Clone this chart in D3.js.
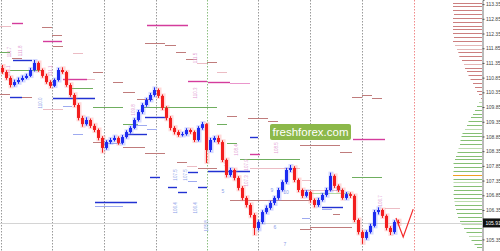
<!DOCTYPE html>
<html>
<head>
<meta charset="utf-8">
<script src="https://cdn.jsdelivr.net/npm/d3@7"></script>
<style>
body { margin: 0; background: #fff; }
svg { display: block; }
</style>
</head>
<body>
<script>
// candles (open = previous close)
const firstOpen = 111.18
const closes = [111.04, 110.84, 110.60, 110.70, 110.77, 110.84, 110.91, 111.11, 111.35, 111.11,
    110.91, 110.70, 110.57, 110.77, 111.11, 111.04, 110.60, 110.26, 109.92, 109.48,
    109.27, 109.41, 109.21, 109.07, 108.80, 108.46, 108.66, 108.73, 108.80, 108.63,
    108.83, 109.00, 109.14, 109.41, 109.68, 109.92, 110.09, 110.26, 110.43, 110.23,
    109.82, 109.48, 109.14, 109.00, 108.90, 108.93, 109.07, 109.00, 108.73, 109.14,
    109.27, 108.39, 108.73, 108.80, 108.66, 108.05, 107.54, 107.71, 107.44, 107.10,
    106.76, 106.52, 106.18, 105.74, 105.94, 106.28, 106.42, 106.59, 106.76, 107.03,
    107.30, 107.71, 107.78, 107.37, 107.03, 106.83, 106.96, 106.69, 106.52, 106.69,
    106.86, 107.03, 107.51, 107.17, 107.03, 106.76, 106.89, 106.83, 106.01, 105.60,
    105.40, 105.60, 105.81, 106.28, 106.35, 106.15, 105.74, 105.60, 105.94, 105.91]
const highs = [111.28, 111.10, 110.90, 110.78, 110.85, 110.92, 110.98, 111.18, 111.45, 111.40,
    111.16, 110.98, 110.76, 110.82, 111.18, 111.20, 111.08, 110.66, 110.32, 109.98,
    109.55, 109.50, 109.46, 109.28, 109.12, 108.86, 108.72, 108.80, 108.88, 108.85,
    108.90, 109.06, 109.20, 109.47, 109.75, 109.98, 110.16, 110.33, 110.52, 110.48,
    110.28, 109.88, 109.54, 109.20, 109.06, 109.00, 109.13, 109.12, 109.05, 109.20,
    109.34, 109.30, 108.80, 108.86, 108.88, 108.72, 108.10, 107.78, 107.76, 107.50,
    107.16, 106.82, 106.58, 106.24, 106.00, 106.34, 106.50, 106.66, 106.82, 107.10,
    107.36, 107.78, 107.88, 107.84, 107.42, 107.08, 107.02, 107.00, 106.74, 106.76,
    106.92, 107.10, 107.62, 107.56, 107.22, 107.08, 106.96, 106.95, 106.88, 106.06,
    105.66, 105.66, 105.88, 106.35, 106.44, 106.40, 106.20, 105.80, 106.00, 106.02]
const lows = [110.98, 110.78, 110.52, 110.55, 110.64, 110.72, 110.80, 110.87, 111.06, 111.05,
    110.85, 110.64, 110.50, 110.53, 110.72, 110.98, 110.54, 110.20, 109.85, 109.40,
    109.18, 109.22, 109.14, 109.00, 108.72, 108.30, 108.40, 108.60, 108.68, 108.57,
    108.58, 108.78, 108.95, 109.10, 109.36, 109.62, 109.86, 110.04, 110.20, 110.16,
    109.75, 109.40, 109.06, 108.92, 108.84, 108.85, 108.88, 108.94, 108.66, 108.68,
    109.08, 107.95, 108.32, 108.66, 108.60, 107.98, 107.46, 107.48, 107.36, 107.02,
    106.68, 106.44, 106.10, 105.50, 105.66, 105.88, 106.22, 106.36, 106.52, 106.70,
    106.98, 107.24, 107.64, 107.30, 106.96, 106.76, 106.78, 106.60, 106.44, 106.46,
    106.64, 106.80, 106.98, 107.10, 106.96, 106.70, 106.70, 106.76, 105.94, 105.52,
    105.20, 105.34, 105.55, 105.76, 106.20, 106.08, 105.66, 105.50, 105.54, 105.84]

// projected path after the last candle
const forecast = [
    { i: 98.5, p: 106.08 },
    { i: 100.3, p: 105.43 },
    { i: 102.8, p: 106.38 },
]

// day separators (bar positions)
const separators = [-0.3, 12.6, 25.5, 38.4, 51.3, 64.1, 77.1, 90, 102.9]
const separatorKinds = ["gray", "gray", "gray", "gray", "green", "gray", "gray", "gray", "red"]

// right axis
const tickPrices = [113.35, 112.85, 112.35, 111.85, 111.35, 110.85, 110.35, 109.85, 109.35,
    108.85, 108.35, 107.85, 107.35, 106.85, 106.35, 105.35]

// volume profile: bins from 113.40 down, step 0.13
const profileTop = 113.40
const profileStep = 0.13
const profileVolumes = [29, 29, 29, 28, 29, 29, 29, 29, 29, 28,
    29, 27, 25, 23.7, 22.7, 20, 18, 17, 15, 13.5,
    11.5, 9, 7, 5, 3, 1, 3, 5, 7, 9,
    11, 13.5, 15, 17, 19.5, 20.5, 21.5, 22, 23.5, 24.5,
    26, 27, 28.5, 28, 28.5, 29, 28.5, 28.5, 28.5, 28,
    28.5, 28, 27.5, 27, 26, 25, 24, 22, 20.5, 18,
    15.5, 13, 10.5, 7.5, 5]
const profileLight = [11, 12, 16, 26, 33, 38, 47, 52, 58, 61]
const pocIndex = 45
const splitPrice = 110.05

// horizontal level segments [from bar, to bar, price, kind]
const levels = [
    [2.5, 5.25, 112.71, "magenta"], [-0.5, 2.25, 112.61, "lightpink"], [10, 12.5, 112.57, "rosy"],
    [12.5, 15, 112.30, "rosy"], [10.25, 15, 112.10, "magenta"], [12.75, 15.25, 111.93, "rosy"],
    [17.75, 20.25, 111.69, "lightpink"], [-0.5, 2, 111.72, "green"], [2.75, 7.5, 111.45, "blue"],
    [2.5, 5, 111.52, "rosy"], [2, 10, 111.11, "green"], [22.75, 25.25, 111.04, "rosy"],
    [15.25, 21.25, 110.80, "magenta"], [21.25, 23.25, 110.80, "lightpink"], [27.75, 30.25, 110.70, "rosy"],
    [17.5, 22.75, 110.50, "green"], [30.25, 33.25, 110.36, "rosy"], [-0.5, 2, 110.29, "rosy"],
    [2, 5, 110.19, "blue"], [5, 7.5, 110.19, "rosy"], [12.75, 23.25, 110.16, "blue"],
    [33.75, 37.75, 110.12, "rosy"], [22.75, 30.25, 109.85, "green"], [15.25, 17.5, 109.89, "lightblue"],
    [10.25, 15.25, 109.78, "lightpink"], [36.25, 46.5, 112.64, "magenta"], [35.75, 40.75, 112.03, "rosy"],
    [40.75, 43.5, 111.96, "rosy"], [43.5, 46, 111.72, "rosy"], [46, 48.75, 111.48, "rosy"],
    [48.75, 51.25, 111.35, "lightpink"], [51.25, 53.75, 111.38, "rosy"], [53.75, 56.25, 111.04, "lightpink"],
    [46.5, 51.25, 110.74, "magenta"], [51.5, 57, 110.70, "magenta"], [57, 62, 110.67, "lightmagenta"],
    [35.25, 53.75, 109.85, "green"], [35.75, 41.25, 109.51, "blue"], [56.25, 58.75, 109.55, "rosy"],
    [61.5, 66.5, 109.48, "rosy"], [66.5, 69, 109.38, "rosy"], [53.75, 56.25, 109.27, "green"],
    [32.75, 36.25, 109.24, "lightblue"], [62, 64, 108.83, "blue"], [56.25, 58.75, 108.63, "green"],
    [35.75, 40.75, 108.29, "rosy"], [43.75, 46.25, 107.98, "rosy"], [46.25, 48.75, 107.85, "lightpink"],
    [62, 64.5, 108.25, "magenta"], [59.5, 74.5, 108.08, "green"], [37, 39.5, 107.47, "blue"],
    [51.5, 62, 107.68, "blue"], [62, 74.5, 107.78, "lightpink"], [49, 53.75, 107.78, "rosy"],
    [46.5, 49, 107.64, "blue"], [41.5, 43.75, 107.13, "blue"], [44, 46.25, 106.96, "blue"],
    [49, 51.25, 107.13, "blue"], [46.5, 48.75, 107.34, "lightblue"], [57, 77, 106.69, "rosy"],
    [87.75, 95.75, 108.76, "magenta"], [74.5, 84.5, 108.56, "rosy"], [84.5, 87.5, 108.32, "rosy"],
    [87.5, 95, 107.47, "green"], [75, 77, 107.37, "lightpink"], [75, 85.25, 107.03, "lightpink"],
    [77, 87, 106.93, "lightgreen"], [80, 85.25, 106.45, "blue"], [82.75, 84.5, 106.21, "rosy"],
    [80, 82.5, 106.38, "lightblue"], [95.75, 99.5, 106.42, "lightpink"], [75, 77, 106.08, "lightblue"],
    [74.5, 77.5, 105.70, "rosy"], [77, 87.5, 105.77, "rosy"], [87.5, 90, 110.19, "rosy"],
    [90, 92.5, 110.26, "rosy"], [92.5, 95, 110.16, "rosy"], [23.25, 33.75, 106.62, "blue"],
    [23.25, 30.25, 106.49, "lightblue"], [31.25, 36.25, 108.93, "blue"], [36.25, 38.75, 109.10, "lightblue"],
    [30.25, 34, 109.27, "green"], [30.25, 35.75, 108.49, "rosy"], [17.75, 20.25, 108.93, "lightblue"],
    [22.75, 25.25, 108.66, "rosy"], [25.25, 30.25, 108.63, "lightblue"],
]

// small level captions [bar, price, text, kind, rotated]
const captions = [
    [1.75, 111.72, "111.7", "pink", 1], [4.5, 111.76, "111.8", "pink", 1], [1.5, 111.08, "111.1", "pink", 1],
    [12, 111.08, "111.1", "pink", 1], [9.5, 109.99, "110.0", "blue", 1], [32.75, 109.75, "109.8", "pink", 1],
    [48.25, 111.52, "111.5", "pink", 1], [48.25, 110.33, "110.3", "pink", 1], [58.5, 108.39, "108.4", "pink", 1],
    [56, 107.95, "108", "pink", 1], [61, 107.88, "107.9", "pink", 1], [61, 107.34, "107.3", "pink", 1],
    [68.5, 108.46, "108.5", "pink", 1], [43.25, 107.54, "107.5", "blue", 1], [45.75, 107.54, "107.5", "blue", 1],
    [43.25, 106.42, "106.4", "blue", 1], [48.25, 106.42, "106.4", "blue", 1], [51, 105.81, "105.8", "blue", 1],
    [94.5, 106.66, "106.7", "pink", 1], [55.25, 106.99, "5", "blue", 0], [71, 106.96, "10", "blue", 0],
    [68.25, 105.77, "6", "blue", 0], [70.75, 105.19, "7", "blue", 0], [62, 106.42, "8", "blue", 0],
    [67.5, 107.03, "9", "blue", 0], [84, 107.06, "10", "blue", 0],
]

const levelColors = {
    magenta: "#d43c9c", lightmagenta: "#ea96cc", rosy: "#c07c7c", lightpink: "#ecbcc4",
    green: "#6fae5f", lightgreen: "#b4d9a4", blue: "#2232d2", lightblue: "#9eaaf0",
}

const W = 500, H = 251, axisX = 482

const x = d3.scaleLinear().domain([-0.5, 120]).range([0, axisX])
const y = d3.scaleLinear().domain([113.49, 113.49 - 0.034 * H]).range([0, H])
const vol = d3.scaleLinear().domain([0, 30]).range([axisX, axisX - 30])

const svg = d3.select("body").append("svg")
    .attr("width", W)
    .attr("height", H)
    .style("font-family", "'Liberation Sans', Arial, sans-serif")

const candles = closes.map((c, i) => ({
    i: i,
    o: i ? closes[i - 1] : firstOpen,
    h: highs[i],
    l: lows[i],
    c: c,
}))
const last = candles[candles.length - 1]

// separators
svg.append("g").selectAll("line")
    .data(separators)
    .join("line")
    .attr("x1", (d) => Math.round(x(d)) + 0.5)
    .attr("x2", (d) => Math.round(x(d)) + 0.5)
    .attr("y1", 0)
    .attr("y2", H)
    .attr("stroke", (d, i) => ({ gray: "#9a9a9a", green: "#8cbf80", red: "#f08a8a" })[separatorKinds[i]])
    .attr("stroke-dasharray", "1.5,1.5")

// volume profile
const profile = svg.append("g")
profile.selectAll("line")
    .data(profileVolumes)
    .join("line")
    .attr("x1", (d) => vol(d))
    .attr("x2", axisX)
    .attr("y1", (d, i) => Math.round(y(profileTop - i * profileStep)) + 0.5)
    .attr("y2", (d, i) => Math.round(y(profileTop - i * profileStep)) + 0.5)
    .attr("stroke", (d, i) => {
        const p = profileTop - i * profileStep
        if (i === pocIndex) return "#f0a020"
        const light = profileLight.includes(i)
        if (p > splitPrice) return light ? "#e4b6b6" : "#cc7f7f"
        return light ? "#bcdcae" : "#86bf74"
    })
    .attr("stroke-width", 1)

// current price line
svg.append("line")
    .attr("x1", 0)
    .attr("x2", axisX)
    .attr("y1", Math.round(y(last.c)) + 0.5)
    .attr("y2", Math.round(y(last.c)) + 0.5)
    .attr("stroke", "#d4d4d4")

// level segments
svg.append("g").selectAll("line")
    .data(levels)
    .join("line")
    .attr("x1", (d) => x(d[0]))
    .attr("x2", (d) => x(d[1]))
    .attr("y1", (d) => Math.round(y(d[2])) + 0.5)
    .attr("y2", (d) => Math.round(y(d[2])) + 0.5)
    .attr("stroke", (d) => levelColors[d[3]])
    .attr("stroke-width", (d) => (d[3] === "blue" || d[3] === "magenta") ? 1.4 : 1)

// captions
svg.append("g").selectAll("text")
    .data(captions)
    .join("text")
    .attr("transform", (d) => `translate(${x(d[0])},${y(d[1])})` + (d[4] ? " rotate(-90)" : ""))
    .attr("text-anchor", "middle")
    .attr("dy", "0.35em")
    .attr("font-size", (d) => d[4] ? 4.5 : 5)
    .attr("fill", (d) => d[3] === "pink" ? "#e2a0d4" : "#8a9ee8")
    .text((d) => d[2])

// ghost candles
const ghost = svg.append("g").attr("opacity", 0.32)
ghost.selectAll("rect")
    .data(candles)
    .join("rect")
    .attr("x", (d) => x(d.i) - 1.5)
    .attr("width", 5)
    .attr("y", (d) => y(d.h) - 1)
    .attr("height", (d) => Math.max(1, y(d.l) - y(d.h) + 2))
    .attr("fill", (d) => d.c >= d.o ? "#7f8cff" : "#ff8a8a")

// candles
const cg = svg.append("g")
cg.selectAll("line")
    .data(candles)
    .join("line")
    .attr("x1", (d) => x(d.i) + 0.5)
    .attr("x2", (d) => x(d.i) + 0.5)
    .attr("y1", (d) => y(d.h))
    .attr("y2", (d) => y(d.l))
    .attr("stroke", (d) => d.c >= d.o ? "#1c2cf0" : "#f21e1e")
    .attr("stroke-width", 1)
cg.selectAll("rect")
    .data(candles)
    .join("rect")
    .attr("x", (d) => x(d.i) - 1)
    .attr("width", 3)
    .attr("y", (d) => y(Math.max(d.o, d.c)))
    .attr("height", (d) => Math.max(1, Math.abs(y(d.o) - y(d.c))))
    .attr("fill", (d) => d.c >= d.o ? "#1c2cf0" : "#f21e1e")

// forecast
svg.append("path")
    .attr("d", d3.line().x((d) => x(d.i)).y((d) => y(d.p))(forecast))
    .attr("fill", "none")
    .attr("stroke", "#f42a2a")
    .attr("stroke-width", 1.2)

// watermark
const wm = svg.append("g").attr("transform", "translate(270,124)")
wm.append("rect")
    .attr("width", 81)
    .attr("height", 16)
    .attr("rx", 2)
    .attr("fill", "#8cb84a")
wm.append("text")
    .attr("x", 40.5)
    .attr("y", 12.2)
    .attr("text-anchor", "middle")
    .attr("font-size", 11.5)
    .attr("fill", "#fff")
    .text("freshforex.com")

// right axis
const axis = svg.append("g")
    .attr("transform", `translate(${axisX + 0.5},0)`)
    .call(d3.axisRight(y).tickValues(tickPrices).tickSize(2).tickPadding(1.5).tickFormat(d3.format(".2f")))
axis.select(".domain").attr("stroke", "#777")
axis.selectAll(".tick line").attr("stroke", "#555")
axis.selectAll(".tick text")
    .attr("font-size", 5)
    .attr("font-family", "'Liberation Sans', Arial, sans-serif")
    .attr("fill", "#444")

// current price tag
const tag = svg.append("g").attr("transform", `translate(${axisX + 1},${y(last.c)})`)
tag.append("rect")
    .attr("y", -4.5)
    .attr("width", W - axisX - 1)
    .attr("height", 9)
    .attr("fill", "#111")
tag.append("text")
    .attr("x", 2.5)
    .attr("dy", "0.35em")
    .attr("font-size", 5)
    .attr("fill", "#fff")
    .text(d3.format(".2f")(last.c))
</script>
</body>
</html>
